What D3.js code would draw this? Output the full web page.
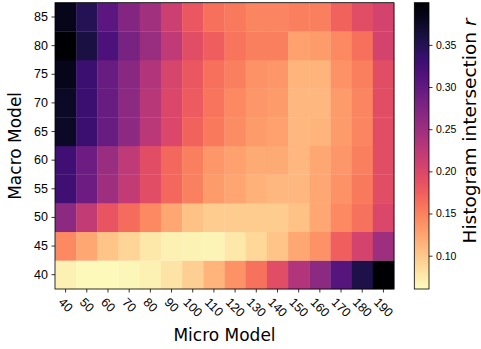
<!DOCTYPE html>
<html><head><meta charset="utf-8">
<script src="https://cdn.jsdelivr.net/npm/d3@7"></script>
<style>body{margin:0;background:#fff}svg{display:block;font-family:"DejaVu Sans",sans-serif}</style>
</head><body><svg id="c" width="481" height="349"></svg>
<script>
const microModels = [40,50,60,70,80,90,100,110,120,130,140,150,160,170,180,190];
const macroModels = [40,45,50,55,60,65,70,75,80,85];
const macro85 = [0.383,0.349,0.305,0.271,0.247,0.213,0.182,0.162,0.155,0.148,0.148,0.152,0.152,0.172,0.193,0.206];
const macro80 = [0.400,0.359,0.318,0.281,0.254,0.223,0.193,0.176,0.159,0.152,0.152,0.128,0.131,0.145,0.162,0.206];
const macro75 = [0.383,0.332,0.295,0.267,0.233,0.203,0.182,0.162,0.152,0.138,0.135,0.114,0.114,0.138,0.152,0.193];
const macro70 = [0.376,0.332,0.295,0.264,0.230,0.199,0.179,0.159,0.145,0.135,0.131,0.111,0.111,0.131,0.148,0.193];
const macro65 = [0.376,0.332,0.295,0.264,0.227,0.199,0.172,0.155,0.142,0.131,0.128,0.111,0.114,0.131,0.148,0.193];
const macro60 = [0.328,0.291,0.254,0.223,0.193,0.169,0.152,0.135,0.128,0.121,0.121,0.111,0.123,0.135,0.152,0.193];
const macro55 = [0.328,0.291,0.250,0.220,0.193,0.169,0.150,0.131,0.125,0.116,0.111,0.111,0.123,0.138,0.155,0.193];
const macro50 = [0.264,0.220,0.185,0.166,0.145,0.123,0.104,0.097,0.097,0.097,0.097,0.104,0.123,0.145,0.160,0.199];
const macro45 = [0.145,0.123,0.102,0.091,0.077,0.070,0.069,0.068,0.077,0.089,0.102,0.123,0.138,0.175,0.206,0.250];
const macro40 = [0.070,0.064,0.064,0.066,0.070,0.080,0.094,0.114,0.138,0.160,0.193,0.233,0.264,0.310,0.355,0.400];
const colorbarTicks = [0.10,0.15,0.20,0.25,0.30,0.35];
const colorRange = [0.0605, 0.400];

const rows = {40:macro40,45:macro45,50:macro50,55:macro55,60:macro60,65:macro65,70:macro70,75:macro75,80:macro80,85:macro85};
const cells = [];
macroModels.forEach(my => microModels.forEach((mx,i) => cells.push({x:mx,y:my,v:rows[my][i]})));

const svg = d3.select("#c");
const L=55, R=394, T=2.7, B=289;
const x = d3.scaleBand().domain(microModels).range([L,R]);
const y = d3.scaleBand().domain(macroModels.slice().reverse()).range([T,B]);
const color = d3.scaleSequential(t => d3.interpolateMagma(1-t)).domain(colorRange);

svg.append("g").selectAll("rect").data(cells).join("rect")
  .attr("x", d=>x(d.x)).attr("y", d=>y(d.y))
  .attr("width", x.bandwidth()+0.3).attr("height", y.bandwidth()+0.3)
  .attr("fill", d=>color(d.v));
svg.append("rect").attr("x",L).attr("y",T).attr("width",R-L).attr("height",B-T)
  .attr("fill","none").attr("stroke","#000").attr("stroke-width",0.8);

// y axis
const ya = svg.append("g").attr("transform",`translate(${L},0)`)
  .call(d3.axisLeft(y).tickSize(3.5).tickPadding(3.5));
ya.select(".domain").remove();
ya.selectAll("text").attr("font-size",12.5).attr("fill","#000");
ya.selectAll("line").attr("stroke","#000").attr("stroke-width",0.8);

// x axis
const xa = svg.append("g").attr("transform",`translate(0,${B})`)
  .call(d3.axisBottom(x).tickSize(3.5).tickPadding(3.5));
xa.select(".domain").remove();
xa.selectAll("line").attr("stroke","#000").attr("stroke-width",0.8);
xa.selectAll("text").each(function(d){
  const t = d3.select(this).attr("font-size",12.5).attr("fill","#000").attr("dy",null).attr("y",null);
  const w = this.getComputedTextLength(), h = 9;
  const half = (w+h)*Math.SQRT1_2/2;
  t.attr("text-anchor","middle").attr("dominant-baseline","central")
   .attr("transform",`translate(0,${8+half}) rotate(45)`);
});

svg.append("text").attr("x",(L+R)/2).attr("y",341).attr("text-anchor","middle")
  .attr("font-size",17).text("Micro Model");
svg.append("text").attr("transform",`translate(21,${(T+B)/2}) rotate(-90)`).attr("text-anchor","middle")
  .attr("font-size",17).text("Macro Model");

// colorbar
const CL=414.3, CR=429;
const cy = d3.scaleLinear().domain(colorRange).range([B,T]);
const grad = svg.append("defs").append("linearGradient").attr("id","cb")
  .attr("x1",0).attr("y1",1).attr("x2",0).attr("y2",0);
d3.range(0,1.0001,0.02).forEach(p => grad.append("stop").attr("offset",p)
  .attr("stop-color", color(colorRange[0]+p*(colorRange[1]-colorRange[0]))));
svg.append("rect").attr("x",CL).attr("y",T).attr("width",CR-CL).attr("height",B-T)
  .attr("fill","url(#cb)").attr("stroke","#000").attr("stroke-width",0.8);
const ca = svg.append("g").attr("transform",`translate(${CR},0)`)
  .call(d3.axisRight(cy).tickValues(colorbarTicks).tickFormat(d3.format(".2f")).tickSize(3.5).tickPadding(3.5));
ca.select(".domain").remove();
ca.selectAll("text").attr("font-size",10.5).attr("fill","#000");
ca.selectAll("line").attr("stroke","#000").attr("stroke-width",0.8);

const lab = svg.append("text").attr("transform",`translate(476,131) rotate(-90)`)
  .attr("text-anchor","middle").attr("font-size",18.5);
lab.append("tspan").text("Histogram intersection ");
lab.append("tspan").attr("font-style","italic").text("r");
</script></body></html>
